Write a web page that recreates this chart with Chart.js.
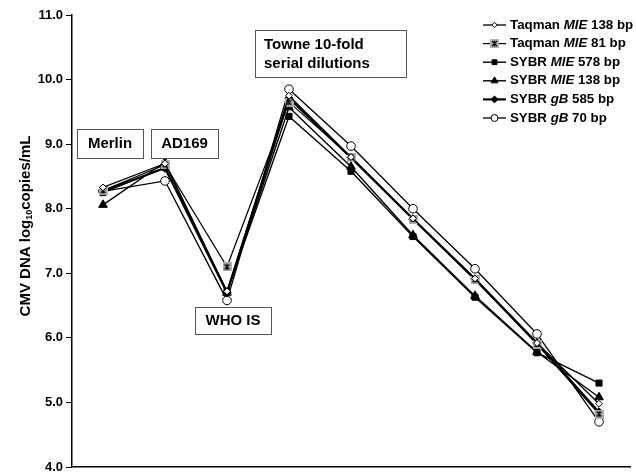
<!DOCTYPE html>
<html>
<head>
<meta charset="utf-8">
<script src="https://cdn.jsdelivr.net/npm/chart.js@4/dist/chart.umd.min.js"></script>
<style>
  html, body { margin: 0; padding: 0; background: #fff; }
  #wrap { width: 636px; height: 475px; position: relative; }
</style>
</head>
<body>
<div id="wrap"><canvas id="cmv"></canvas></div>
<script>
// samples along the x axis (no tick labels shown)
var samples = ['Merlin', 'AD169', 'WHO IS', 'Towne 1', 'Towne 2', 'Towne 3', 'Towne 4', 'Towne 5', 'Towne 6'];

// log10 copies/mL
var taqmanMIE138 = [8.33, 8.70, 6.72, 9.75, 8.80, 7.85, 6.92, 5.92, 4.98];
var taqmanMIE81  = [8.28, 8.68, 7.10, 9.65, 8.80, 7.84, 6.90, 5.90, 4.82];
var sybrMIE578   = [8.25, 8.64, 6.72, 9.43, 8.58, 7.57, 6.63, 5.77, 5.30];
var sybrMIE138   = [8.06, 8.72, 6.70, 9.57, 8.65, 7.59, 6.65, 5.78, 5.08];
var sybrGB585    = [8.27, 8.63, 6.70, 9.71, 8.79, 7.84, 6.91, 5.92, 4.85];
var sybrGB70     = [8.27, 8.43, 6.58, 9.85, 8.97, 8.00, 7.07, 6.06, 4.70];

var yTicks = [4, 5, 6, 7, 8, 9, 10, 11];

// legend parts: [plain, italic, plain]
var legendText = [
  ['Taqman ', 'MIE', ' 138 bp'],
  ['Taqman ', 'MIE', ' 81 bp'],
  ['SYBR ', 'MIE', ' 578 bp'],
  ['SYBR ', 'MIE', ' 138 bp'],
  ['SYBR ', 'gB', ' 585 bp'],
  ['SYBR ', 'gB', ' 70 bp']
];

var FONT = '"Liberation Sans", Arial, sans-serif';

// grey square with an x for the Taqman 81 bp series
function xSquare() {
  var c = document.createElement('canvas');
  c.width = 9; c.height = 9;
  var g = c.getContext('2d');
  g.fillStyle = '#b0b0b0';
  g.fillRect(0, 0, 9, 9);
  g.strokeStyle = '#000';
  g.lineWidth = 1.2;
  g.beginPath();
  g.moveTo(2, 2); g.lineTo(7, 7);
  g.moveTo(7, 2); g.lineTo(2, 7);
  g.moveTo(4.5, 1.5); g.lineTo(4.5, 7.5);
  g.stroke();
  return c;
}
var xsq = xSquare();

function series(label, data, style, radius, fill, lw) {
  return {
    label: label,
    data: data,
    borderColor: '#000',
    borderWidth: lw,
    pointStyle: style,
    pointRadius: radius,
    pointBackgroundColor: fill,
    pointBorderColor: '#000',
    pointBorderWidth: 1,
    tension: 0
  };
}

var datasets = [
  series('Taqman MIE 138 bp', taqmanMIE138, 'rectRot', 3.4, '#fff', 1.3),
  series('Taqman MIE 81 bp', taqmanMIE81, xsq, 4.5, '#b0b0b0', 1.2),
  series('SYBR MIE 578 bp', sybrMIE578, 'rect', 4.3, '#000', 1.4),
  series('SYBR MIE 138 bp', sybrMIE138, 'triangle', 5, '#000', 1.4),
  series('SYBR gB 585 bp', sybrGB585, 'rectRot', 4.3, '#000', 2.2),
  series('SYBR gB 70 bp', sybrGB70, 'circle', 4.3, '#fff', 1.3)
];

function box(ctx, x1, y1, x2, y2) {
  ctx.save();
  ctx.fillStyle = '#fff';
  ctx.fillRect(x1, y1, x2 - x1, y2 - y1);
  ctx.strokeStyle = '#555';
  ctx.lineWidth = 1;
  ctx.strokeRect(x1 + 0.5, y1 + 0.5, x2 - x1, y2 - y1);
  ctx.restore();
}

var extras = {
  id: 'extras',
  afterDraw: function(chart) {
    var ctx = chart.ctx;

    // y axis title with subscript
    ctx.save();
    ctx.translate(26, 226);
    ctx.rotate(-Math.PI / 2);
    ctx.fillStyle = '#000';
    ctx.textBaseline = 'middle';
    var p1 = 'CMV DNA log', p2 = '10', p3 = 'copies/mL';
    ctx.font = 'bold 15px ' + FONT;
    var w1 = ctx.measureText(p1).width, w3 = ctx.measureText(p3).width;
    ctx.font = 'bold 9px ' + FONT;
    var w2 = ctx.measureText(p2).width;
    var x0 = -(w1 + w2 + w3) / 2;
    ctx.font = 'bold 15px ' + FONT;
    ctx.fillText(p1, x0, 0);
    ctx.font = 'bold 9px ' + FONT;
    ctx.fillText(p2, x0 + w1, 4);
    ctx.font = 'bold 15px ' + FONT;
    ctx.fillText(p3, x0 + w1 + w2, 0);
    ctx.restore();

    // sample labels
    ctx.save();
    ctx.font = 'bold 15px ' + FONT;
    ctx.fillStyle = '#000';
    ctx.textBaseline = 'middle';
    ctx.textAlign = 'center';
    box(ctx, 77, 129, 143, 158);
    ctx.fillText('Merlin', 110, 144);
    box(ctx, 151, 129, 218, 158);
    ctx.fillText('AD169', 184.5, 144);
    box(ctx, 195, 307, 271, 334);
    ctx.fillText('WHO IS', 233, 321);
    box(ctx, 255, 30, 406, 77);
    ctx.textAlign = 'left';
    ctx.fillText('Towne 10-fold', 264, 45);
    ctx.fillText('serial dilutions', 264, 64);
    ctx.restore();

    // legend
    ctx.save();
    ctx.textBaseline = 'middle';
    ctx.fillStyle = '#000';
    for (var i = 0; i < datasets.length; i++) {
      var ly = 25 + i * 18.6;
      var d = datasets[i];
      ctx.strokeStyle = '#000';
      ctx.lineWidth = d.borderWidth;
      ctx.beginPath();
      ctx.moveTo(483, ly);
      ctx.lineTo(506, ly);
      ctx.stroke();
      ctx.fillStyle = d.pointBackgroundColor;
      ctx.strokeStyle = '#000';
      ctx.lineWidth = 1;
      Chart.helpers.drawPoint(ctx, { pointStyle: d.pointStyle, radius: d.pointRadius * 0.8, borderWidth: 1, rotation: 0 }, 494.5, ly);
      ctx.fillStyle = '#000';
      var parts = legendText[i], lx = 510;
      for (var k = 0; k < 3; k++) {
        ctx.font = (k === 1 ? 'italic bold 13.3px ' : 'bold 13.3px ') + FONT;
        ctx.fillText(parts[k], lx, ly);
        lx += ctx.measureText(parts[k]).width;
      }
    }
    ctx.restore();
  }
};

new Chart(document.getElementById('cmv'), {
  type: 'line',
  data: { labels: samples, datasets: datasets },
  plugins: [extras],
  options: {
    responsive: true,
    maintainAspectRatio: false,
    animation: false,
    layout: { padding: { top: 15, right: 0, bottom: 0, left: 0 } },
    plugins: { legend: { display: false }, tooltip: { enabled: false } },
    scales: {
      x: {
        type: 'category',
        offset: true,
        ticks: { display: false },
        grid: { display: false },
        border: { display: true, color: '#000', width: 1.5 },
        afterFit: function(s) { s.height = 8; }
      },
      y: {
        min: 4,
        max: 11,
        afterBuildTicks: function(s) { s.ticks = yTicks.map(function(v) { return { value: v }; }); },
        afterFit: function(s) { s.width = 72; s.paddingTop = 0; s.paddingBottom = 0; },
        ticks: {
          font: { family: FONT, size: 13, weight: 'bold' },
          color: '#000',
          padding: 3,
          callback: function(v) { return Number(v).toFixed(1); }
        },
        grid: { drawOnChartArea: false, tickLength: 6, color: '#000' },
        border: { display: true, color: '#000', width: 1.5 }
      }
    }
  }
});
</script>
</body>
</html>
